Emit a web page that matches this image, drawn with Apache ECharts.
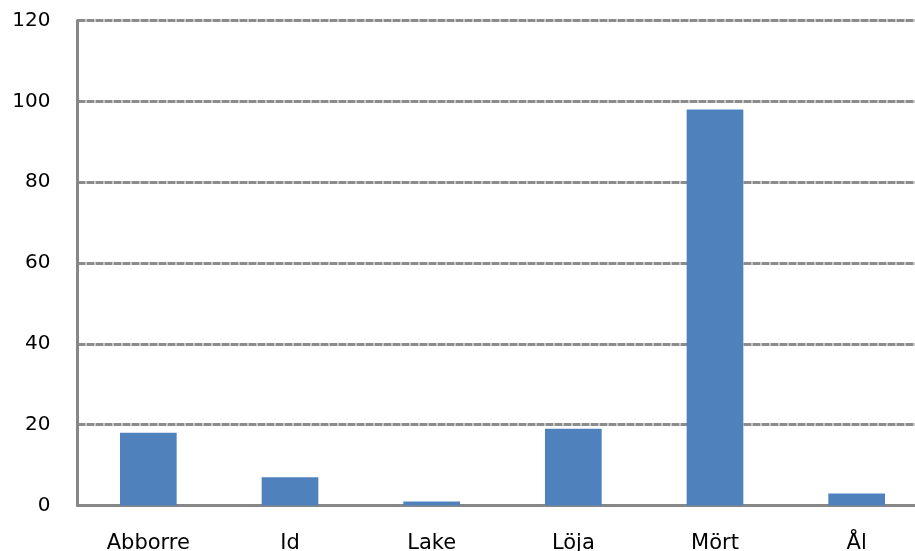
<!DOCTYPE html>
<html>
<head>
<meta charset="utf-8">
<script src="https://cdn.jsdelivr.net/npm/echarts@6/dist/echarts.min.js"></script>
<style>
html,body{margin:0;padding:0;background:#fff;}
#chart{width:915px;height:551px;}
</style>
</head>
<body>
<div id="chart"></div>
<script>
// Fish species and catch counts
const species = ['Abborre', 'Id', 'Lake', 'Löja', 'Mört', 'Ål'];
const counts = [18, 7, 1, 19, 98, 3];
const yTicks = { min: 0, max: 120, interval: 20 };

const chart = echarts.init(document.getElementById('chart'));
chart.setOption({
  animation: false,
  grid: { left: 77.5, top: 20.5, width: 850, height: 485, outerBoundsMode: 'none' },
  xAxis: {
    type: 'category',
    data: species,
    axisLine: { lineStyle: { color: '#878787', width: 3 } },
    axisTick: { show: false },
    axisLabel: {
      margin: 28,
      fontFamily: 'DejaVu Sans',
      fontSize: 21,
      color: '#000'
    }
  },
  yAxis: {
    type: 'value',
    min: yTicks.min,
    max: yTicks.max,
    interval: yTicks.interval,
    axisLine: { show: true, lineStyle: { color: '#878787', width: 3 } },
    axisTick: { show: false },
    axisLabel: {
      margin: 27,
      fontFamily: 'DejaVu Sans',
      fontSize: 20,
      color: '#000'
    },
    splitLine: {
      show: true,
      lineStyle: { color: '#8c8c8c', width: 3, type: [8, 1] }
    }
  },
  series: [{
    type: 'bar',
    data: counts,
    barWidth: '40%',
    itemStyle: { color: '#4F81BD' }
  }]
});
</script>
</body>
</html>
